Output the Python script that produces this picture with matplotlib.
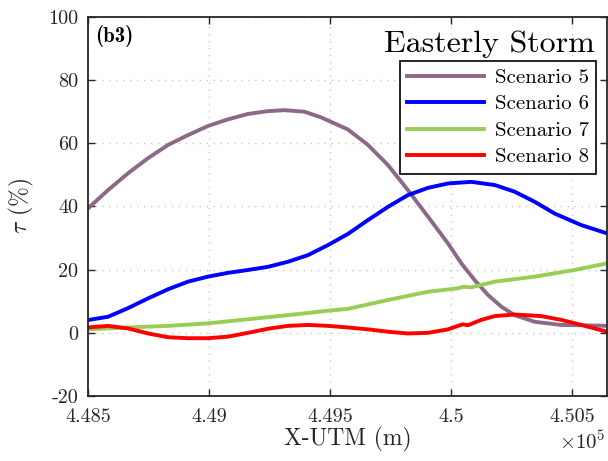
import matplotlib
matplotlib.use("Agg")
import matplotlib.pyplot as plt

plt.rcParams['font.family'] = 'serif'
plt.rcParams['font.serif'] = ['cmr10']
plt.rcParams['mathtext.fontset'] = 'cm'
plt.rcParams['axes.unicode_minus'] = False
plt.rcParams['axes.formatter.use_mathtext'] = True

# values (x in metres, tau in %)
x_s5 = [448500, 448583, 448665, 448748, 448831, 448913, 448996, 449079, 449161,
        449244, 449313, 449395, 449464, 449574, 449657, 449740, 449822,
        449905, 449988, 450043, 450098, 450153, 450208, 450263, 450346, 450456,
        450539, 450645]
tau_s5 = [39.4, 45.2, 50.5, 55.3, 59.5, 62.6, 65.5, 67.6, 69.3,
          70.2, 70.5, 70.0, 68.2, 64.4, 59.5, 53.1, 45.2,
          36.8, 28.3, 22.0, 16.7, 12.0, 8.3, 5.6, 3.5, 2.5,
          2.4, 2.2]

x_s6 = [448500, 448583, 448665, 448748, 448831, 448913, 448996, 449079, 449161,
        449244, 449326, 449409, 449492, 449574, 449657, 449740, 449822, 449905,
        449988, 450084, 450181, 450263, 450346, 450428, 450539, 450645]
tau_s6 = [4.05, 5.1, 7.8, 10.9, 13.8, 16.2, 17.8, 19.0, 19.9,
          20.9, 22.5, 24.6, 27.8, 31.3, 35.7, 39.9, 43.6, 45.9,
          47.3, 47.8, 46.8, 44.7, 41.5, 37.8, 34.1, 31.5]

x_s7 = [448500, 448665, 448831, 448996, 449161, 449326, 449492, 449574, 449740,
        449905, 450029, 450050, 450084, 450181, 450346, 450511, 450645]
tau_s7 = [1.1, 1.7, 2.2, 3.0, 4.3, 5.6, 7.0, 7.6, 10.4,
          13.0, 14.1, 14.6, 14.4, 16.2, 17.8, 19.9, 22.0]

x_s8 = [448500, 448583, 448665, 448748, 448831, 448913, 448996, 449079, 449161,
        449244, 449326, 449409, 449492, 449574, 449657, 449740, 449822, 449905,
        449988, 450029, 450050, 450070, 450125, 450181, 450263, 450373, 450456,
        450539, 450645]
tau_s8 = [1.7, 2.2, 1.4, -0.2, -1.4, -1.7, -1.7, -1.2, 0.0,
          1.3, 2.2, 2.5, 2.2, 1.7, 1.1, 0.35, -0.2, 0.0,
          1.1, 2.2, 2.7, 2.4, 4.1, 5.3, 5.8, 5.3, 4.1,
          2.5, 0.35]

labels = ["Scenario 5", "Scenario 6", "Scenario 7", "Scenario 8"]
colors = ["#8c6a87", "#0000ff", "#9acd55", "#ff0000"]

xticks = [448500, 449000, 449500, 450000, 450500]
xticklabels = ["4.485", "4.49", "4.495", "4.5", "4.505"]
yticks = [-20, 0, 20, 40, 60, 80, 100]
yticklabels = ["-20", "0", "20", "40", "60", "80", "100"]

fig = plt.figure(figsize=(6.08, 4.61), dpi=100)
ax = fig.add_axes([88 / 608, 1 - 396 / 461, 519 / 608, 379 / 461])

series = [(x_s5, tau_s5), (x_s6, tau_s6), (x_s7, tau_s7), (x_s8, tau_s8)]
for (xs, ys), lab, col in zip(series, labels, colors):
    ax.plot(xs, ys, color=col, lw=2.8, label=lab, solid_joinstyle="round")

ax.set_xlim(448500, 450645)
ax.set_ylim(-20, 100)
ax.set_xticks(xticks)
ax.set_xticklabels(xticklabels)
ax.set_yticks(yticks)
ax.set_yticklabels(yticklabels)
ax.tick_params(direction="in", top=True, right=True, labelsize=14.5,
               colors="#262626", length=5, width=1)
ax.tick_params(axis="x", pad=9)
ax.tick_params(axis="y", pad=7)
for s in ax.spines.values():
    s.set_color("#262626")
    s.set_linewidth(1.3)
ax.grid(True, ls=(0, (1, 4)), color="#c8c8c8", lw=1)

ax.set_xlabel("X-UTM (m)", fontsize=17, color="#262626", labelpad=0)
ax.set_ylabel(r"$\tau$ (%)", fontsize=17, color="#262626")
ax.yaxis.set_label_coords(-0.1, 0.5)

ax.text(0.998, -0.09, r"$\times10^5$", transform=ax.transAxes, ha="right",
        va="top", fontsize=15, color="#262626")
ax.text(0.013, 0.978, "(b3)", transform=ax.transAxes, ha="left",
        va="top", fontsize=15, family="cmb10")
ax.text(0.977, 0.908, "Easterly Storm", transform=ax.transAxes, ha="right",
        va="baseline", fontsize=23)

leg = ax.legend(loc="upper right", bbox_to_anchor=(0.979, 0.884), fontsize=15,
                fancybox=False, framealpha=1, edgecolor="black",
                handlelength=3.7, handletextpad=0.5, labelspacing=0.38,
                borderpad=0.35, borderaxespad=0)
leg.get_frame().set_linewidth(1.2)

fig.savefig("out.png", dpi=100)
